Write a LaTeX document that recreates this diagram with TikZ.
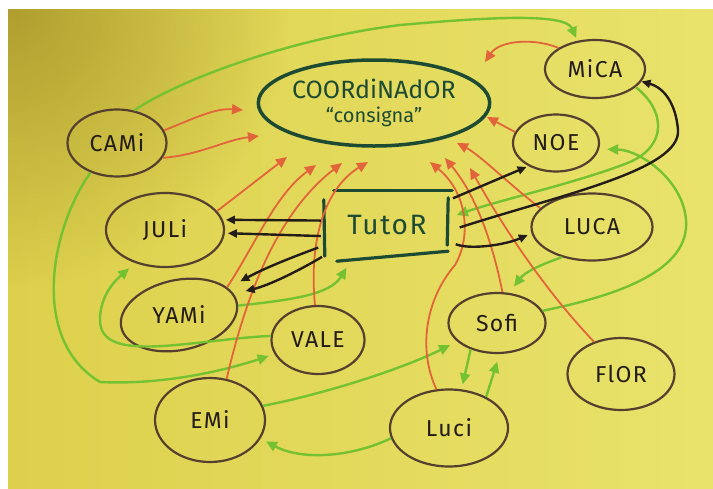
\documentclass[tikz,border=0pt]{standalone}
\usepackage{fontspec}
\setmainfont{Fira Sans}
\newfontfamily\mano[LetterSpace=6]{Fira Sans}
\usetikzlibrary{shapes.geometric,arrows.meta,shadings,fadings}
\tikzfading[name=mancha,inner color=transparent!0,outer color=transparent!100]
\definecolor{papelL}{HTML}{DDD04C}
\definecolor{papelR}{HTML}{E9E36C}
\definecolor{oliva}{HTML}{A8962A}
\definecolor{trazo}{HTML}{55402F}
\definecolor{tinta}{HTML}{231C18}
\definecolor{pino}{HTML}{1D4A33}
\definecolor{rojizo}{HTML}{E2643A}
\definecolor{verdoso}{HTML}{74C232}
\begin{document}
\begin{tikzpicture}[x=1pt,y=-1pt,
  kid/.style={ellipse,draw=trazo,line width=2.2pt,inner sep=0pt,text=tinta,font=\mano\fontsize{23}{25}\selectfont},
  rojo/.style={draw=rojizo,line width=1.8pt,arrows=-{Triangle[length=11pt,width=10pt]}},
  verde/.style={draw=verdoso,line width=2.4pt,arrows=-{Triangle[length=11pt,width=10pt]}},
  negro/.style={draw=tinta,line width=2.4pt,arrows=-{Triangle[length=9pt,width=8pt]}},
  caja/.style={draw=pino,line width=3.2pt,line cap=round}]
\fill[white] (0,0) rectangle (713,488);
\useasboundingbox (0,0) rectangle (713,488);
\shade[left color=papelL,right color=papelR] (8,9) rectangle (713,488);
\begin{scope}
\clip (8,9) rectangle (713,488);
\fill[oliva,path fading=mancha,opacity=0.85] (8,9) circle (280);
\end{scope}
\node[ellipse,draw=pino,line width=3.5pt,minimum width=208pt,minimum height=86pt,inner sep=0pt,text=pino,align=center,font=\fontsize{25}{27}\selectfont] (coord) at (374,103) {COORdiNAdOR\\[-3pt]{\fontsize{20}{22}\selectfont “consigna”}};
\node[text=pino,font=\mano\fontsize{28}{30}\selectfont,minimum width=126pt,minimum height=68pt] (tutor) at (387,225) {TutoR};
\node[kid,minimum width=99pt,minimum height=67pt] (cami) at (117,143) {CAMi};
\node[kid,minimum width=118pt,minimum height=74pt] (juli) at (165,230) {JULi};
\node[kid,minimum width=118pt,minimum height=70pt,rotate=12] (yami) at (179,315) {\rotatebox{-12}{YAMi}};
\node[kid,minimum width=93pt,minimum height=68pt] (vale) at (318,340) {VALE};
\node[kid,minimum width=110pt,minimum height=84pt] (emi) at (210,420) {EMi};
\node[kid,minimum width=118pt,minimum height=77pt] (luci) at (449,428) {Luci};
\node[kid,minimum width=97pt,minimum height=60pt] (sofi) at (497,323) {Sofi};
\node[kid,minimum width=107pt,minimum height=72pt] (flor) at (621,374) {FlOR};
\node[kid,minimum width=121pt,minimum height=67pt] (luca) at (592,227) {LUCA};
\node[kid,minimum width=86pt,minimum height=57pt] (noe) at (556,143) {NOE};
\node[kid,minimum width=100pt,minimum height=58pt] (mica) at (595,69) {MiCA};
\draw[caja] ([xshift=10pt]tutor.north west) -- ([xshift=2pt]tutor.north east);
\draw[caja] ([xshift=-2pt,yshift=-7pt]tutor.north east) -- ([xshift=-3pt,yshift=14pt]tutor.south east);
\draw[caja] ([xshift=13pt,yshift=-2pt]tutor.south west) -- ([xshift=-2pt,yshift=8pt]tutor.south east);
\draw[caja] ([yshift=-9pt]tutor.north west) -- ([xshift=1pt,yshift=3pt]tutor.south west);
\coordinate (p1) at (243,110);
\coordinate (p2) at (259,136);
\coordinate (p3) at (287,157);
\coordinate (p4) at (316,165);
\coordinate (p5) at (342,163);
\coordinate (p6) at (368,162);
\coordinate (p7) at (430,162);
\coordinate (p8) at (445,158);
\coordinate (p9) at (470,168);
\coordinate (p10) at (457,143);
\coordinate (p11) at (487,117);
\coordinate (p12) at (485,62);
\draw[verde,shorten >=3pt] (cami.62) .. controls (170,85) and (280,40) .. (400,25) .. controls (480,18) and (565,12) .. (mica.122);
\draw[verde,shorten >=6pt] (cami.228) .. controls (50,230) and (30,340) .. (100,382) .. controls (160,385) and (220,372) .. (vale.198);
\draw[verde,shorten >=8pt] (vale.175) .. controls (190,340) and (100,365) .. (100,320) .. controls (100,300) and (110,285) .. (juli.228);
\draw[verde,shorten >=10pt] (yami.-3) .. controls (290,300) and (330,295) .. (tutor.224);
\draw[verde,shorten >=8pt] (emi.15) .. controls (320,395) and (400,370) .. (sofi.205);
\draw[verde,shorten >=6pt] (luci.190) .. controls (350,458) and (300,460) .. (emi.-20);
\draw[verde,shorten >=5pt] (sofi.225) -- (luci.72);
\draw[verde,shorten >=8pt] (luci.40) -- (sofi.-85);
\draw[verde,shorten >=8pt] (luca.225) .. controls (540,265) and (525,272) .. (sofi.68);
\draw[verde,shorten >=8pt] (sofi.15) .. controls (620,295) and (690,270) .. (686,220) .. controls (683,180) and (640,150) .. (noe.-8);
\draw[verde,shorten >=7pt] (mica.-24) .. controls (665,110) and (668,145) .. (630,162) .. controls (580,182) and (500,200) .. (tutor.7);
\draw[rojo] (cami.15) .. controls (195,118) and (215,108) .. (p1);
\draw[rojo] (cami.-18) .. controls (200,155) and (225,140) .. (p2);
\draw[rojo] (juli.20) -- (p3);
\draw[rojo] (yami.18) .. controls (255,245) and (275,195) .. (p4);
\draw[rojo] (emi.68) .. controls (245,300) and (275,215) .. (p5);
\draw[rojo] (vale.95) .. controls (308,230) and (330,185) .. (p6);
\draw[rojo] (luci.108) .. controls (418,350) and (425,300) .. (455,265) .. controls (470,240) and (470,195) .. (p7);
\draw[rojo] (sofi.80) .. controls (495,255) and (480,200) .. (p8);
\draw[rojo] (flor.130) .. controls (545,290) and (505,230) .. (p9);
\draw[rojo] (luca.160) .. controls (510,185) and (480,155) .. (p10);
\draw[rojo] (noe.165) -- (p11);
\draw[rojo] (mica.150) .. controls (535,38) and (500,40) .. (p12);
\draw[negro,shorten <=3pt,shorten >=3pt] (tutor.176) -- (juli.10);
\draw[negro,shorten <=3pt,shorten >=3pt] (tutor.190) -- (juli.-3);
\draw[negro,shorten <=6pt,shorten >=14pt] (tutor.198) .. controls (290,258) and (265,268) .. (yami.17);
\draw[negro,shorten <=2pt,shorten >=12pt] (tutor.206) .. controls (300,270) and (270,285) .. (yami.9);
\draw[negro,shorten <=3pt,shorten >=2pt] (tutor.22) -- (noe.220);
\draw[negro,shorten <=10pt] (tutor.-5) .. controls (560,195) and (681,170) .. (678,130) .. controls (676,105) and (665,88) .. (mica.-15);
\draw[negro,shorten <=6pt,shorten >=4pt] (tutor.-15) .. controls (470,250) and (505,245) .. (luca.186);
\end{tikzpicture}
\end{document}
